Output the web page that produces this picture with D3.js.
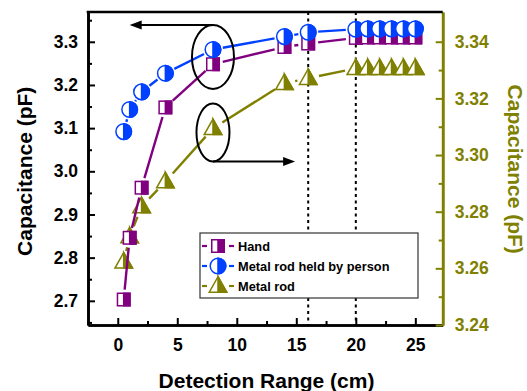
<!DOCTYPE html>
<html>
<head>
<meta charset="utf-8">
<script src="https://cdn.jsdelivr.net/npm/d3@7"></script>
<style>
  body { margin: 0; background: #fff; }
  svg { display: block; font-family: Arial, "Liberation Sans", sans-serif; font-weight: bold; }
</style>
</head>
<body>
<svg id="chart" width="527" height="391"></svg>
<script>
// data
var handX = [0.5, 1, 2, 4, 8, 14, 16, 20, 21, 22, 23, 24, 25]
var handY = [2.703, 2.846, 2.962, 3.148, 3.248, 3.288, 3.296, 3.309, 3.31, 3.31, 3.31, 3.31, 3.31]
var personX = [0.5, 1, 2, 4, 8, 14, 16, 20, 21, 22, 23, 24, 25]
var personY = [3.092, 3.143, 3.184, 3.227, 3.282, 3.312, 3.322, 3.329, 3.33, 3.33, 3.33, 3.33, 3.33]
var rodX = [0.5, 1, 2, 4, 8, 14, 16, 20, 21, 22, 23, 24, 25]
var rodY = [3.2623, 3.2712, 3.2818, 3.2906, 3.3094, 3.3253, 3.3271, 3.3306, 3.3306, 3.3306, 3.3306, 3.3306, 3.3306]
var xTicks = [0, 5, 10, 15, 20, 25]
var yLeftTicks = [2.7, 2.8, 2.9, 3.0, 3.1, 3.2, 3.3]
var yRightTicks = [3.24, 3.26, 3.28, 3.30, 3.32, 3.34]
var markLines = [16, 20]
var legendNames = ['Hand', 'Metal rod held by person', 'Metal rod']

var purple = '#800080', blue = '#0040ff', olive = '#808000'

var svg = d3.select('#chart')
var plotL = 88, plotR = 442.7, plotT = 12, plotB = 325

var x = d3.scaleLinear().domain([-2.5, 27.3]).range([plotL, plotR])
var yL = d3.scaleLinear().domain([2.644, 3.369]).range([plotB, plotT])
var yR = d3.scaleLinear().domain([3.24, 3.3505]).range([plotB, plotT])

// dotted guide lines
svg.append('g').selectAll('line').data(markLines).enter().append('line')
  .attr('x1', function(d) { return x(d) }).attr('x2', function(d) { return x(d) })
  .attr('y1', plotT).attr('y2', plotB)
  .attr('stroke', '#000').attr('stroke-width', 2).attr('stroke-dasharray', '3,3.5')

// axes
function styleAxis(g, color) {
  g.select('.domain').attr('stroke', color).attr('stroke-width', 2.6)
  g.selectAll('.tick line').attr('stroke', color).attr('stroke-width', 2)
  g.selectAll('.tick text').attr('fill', color).attr('font-size', 17.5).attr('font-weight', 'bold')
    .attr('font-family', 'Arial, "Liberation Sans", sans-serif')
}

var minorX = d3.range(-2.5, 27.5, 2.5).filter(function(d) { return d % 5 !== 0 })
svg.append('g').attr('transform', 'translate(0,' + plotB + ')')
  .call(d3.axisBottom(x).tickValues(minorX).tickSize(-4).tickFormat('').tickSizeOuter(0))
  .call(styleAxis, '#000')
svg.append('g').attr('transform', 'translate(0,' + plotB + ')')
  .call(d3.axisBottom(x).tickValues(xTicks).tickSize(-7).tickPadding(14).tickSizeOuter(0))
  .call(styleAxis, '#000')

var minorL = d3.range(2.65, 3.37, 0.1)
svg.append('g').attr('transform', 'translate(' + plotL + ',0)')
  .call(d3.axisLeft(yL).tickValues(minorL).tickSize(-4).tickFormat('').tickSizeOuter(0))
  .call(styleAxis, '#000')
svg.append('g').attr('transform', 'translate(' + plotL + ',0)')
  .call(d3.axisLeft(yL).tickValues(yLeftTicks).tickSize(-7).tickPadding(10).tickFormat(d3.format('.1f')).tickSizeOuter(0))
  .call(styleAxis, '#000')

var minorR = [3.25, 3.27, 3.29, 3.31, 3.33]
svg.append('g').attr('transform', 'translate(' + plotR + ',0)')
  .call(d3.axisRight(yR).tickValues(minorR).tickSize(-4).tickFormat('').tickSizeOuter(0))
  .call(styleAxis, olive)
svg.append('g').attr('transform', 'translate(' + plotR + ',0)')
  .call(d3.axisRight(yR).tickValues(yRightTicks).tickSize(-7).tickPadding(12).tickFormat(d3.format('.2f')).tickSizeOuter(0))
  .call(styleAxis, olive)

// top frame
svg.append('line').attr('x1', plotL - 1.3).attr('x2', plotR).attr('y1', plotT).attr('y2', plotT)
  .attr('stroke', '#000').attr('stroke-width', 2.6)

// axis titles
svg.append('text').attr('x', x(12.5)).attr('y', 388).attr('text-anchor', 'middle')
  .attr('font-size', 21).text('Detection Range (cm)')
svg.append('text').attr('transform', 'translate(32,' + yL(3.0) + ') rotate(-90)')
  .attr('text-anchor', 'middle').attr('font-size', 21).text('Capacitance (pF)')
svg.append('text').attr('transform', 'translate(508,' + yR(3.295) + ') rotate(90)')
  .attr('text-anchor', 'middle').attr('font-size', 21).attr('fill', olive).text('Capacitance (pF)')

// marker drawing
function drawSquare(g, cx, cy, color) {
  var s = 12.5
  g.append('rect').attr('x', cx - s / 2).attr('y', cy - s / 2).attr('width', s).attr('height', s)
    .attr('fill', '#fff').attr('stroke', color).attr('stroke-width', 1.5)
  g.append('rect').attr('x', cx).attr('y', cy - s / 2).attr('width', s / 2).attr('height', s)
    .attr('fill', color).attr('stroke', color).attr('stroke-width', 1.5)
}
function drawCircle(g, cx, cy, color) {
  var r = 7.8
  g.append('circle').attr('cx', cx).attr('cy', cy).attr('r', r)
    .attr('fill', '#fff').attr('stroke', color).attr('stroke-width', 1.5)
  var p = d3.path()
  p.moveTo(cx, cy - r)
  p.arc(cx, cy, r, -Math.PI / 2, Math.PI / 2)
  p.closePath()
  g.append('path').attr('d', p.toString()).attr('fill', color).attr('stroke', color).attr('stroke-width', 1.5)
}
function drawTriangle(g, cx, cy, color) {
  var w = 17.5, h = 15.5
  var topY = cy - h * 0.6, baseY = cy + h * 0.4
  g.append('path').attr('d', 'M' + cx + ',' + topY + 'L' + (cx + w / 2) + ',' + baseY + 'L' + (cx - w / 2) + ',' + baseY + 'Z')
    .attr('fill', '#fff').attr('stroke', color).attr('stroke-width', 1.5).attr('stroke-linejoin', 'miter')
  g.append('path').attr('d', 'M' + cx + ',' + topY + 'L' + (cx + w / 2) + ',' + baseY + 'L' + cx + ',' + baseY + 'Z')
    .attr('fill', color).attr('stroke', color).attr('stroke-width', 1.5)
}

// connecting lines with gaps round the symbols, like Origin does
function drawSeries(xs, ys, yScale, color, gap, marker) {
  var g = svg.append('g')
  var pts = xs.map(function(v, i) { return [x(v), yScale(ys[i])] })
  for (var i = 0; i < pts.length - 1; i++) {
    var a = pts[i], b = pts[i + 1]
    var dx = b[0] - a[0], dy = b[1] - a[1]
    var len = Math.sqrt(dx * dx + dy * dy)
    if (len <= gap * 2 + 1) continue
    var ux = dx / len, uy = dy / len
    g.append('line')
      .attr('x1', a[0] + ux * gap).attr('y1', a[1] + uy * gap)
      .attr('x2', b[0] - ux * gap).attr('y2', b[1] - uy * gap)
      .attr('stroke', color).attr('stroke-width', 2.4)
  }
  pts.forEach(function(p) { marker(g, p[0], p[1], color) })
}

drawSeries(rodX, rodY, yR, olive, 11, drawTriangle)
drawSeries(handX, handY, yL, purple, 10, drawSquare)
drawSeries(personX, personY, yL, blue, 10, drawCircle)

// ellipses with arrows pointing to the matching axis
var ann = svg.append('g').attr('fill', 'none').attr('stroke', '#000').attr('stroke-width', 2)
var e1x = x(8), e1y = yL(3.265), e1ry = 32
ann.append('ellipse').attr('cx', e1x).attr('cy', e1y).attr('rx', 21).attr('ry', e1ry)
ann.append('line').attr('x1', e1x).attr('y1', e1y - e1ry).attr('x2', x(1.0) + 10).attr('y2', e1y - e1ry)
svg.append('path').attr('d', 'M' + x(1.0) + ',' + (e1y - e1ry) + 'l12,-4.5l0,9z').attr('fill', '#000')

var e2x = x(8), e2y = yR(3.308), e2ry = 29
ann.append('ellipse').attr('cx', e2x).attr('cy', e2y).attr('rx', 16.5).attr('ry', e2ry)
ann.append('line').attr('x1', e2x).attr('y1', e2y + e2ry).attr('x2', x(14.9) - 10).attr('y2', e2y + e2ry)
svg.append('path').attr('d', 'M' + x(14.9) + ',' + (e2y + e2ry) + 'l-12,-4.5l0,9z').attr('fill', '#000')

// legend
var lg = svg.append('g').attr('transform', 'translate(200,233)')
lg.append('rect').attr('width', 218).attr('height', 65).attr('fill', '#fff')
  .attr('stroke', '#333').attr('stroke-width', 1.2)
var legendColors = [purple, blue, olive]
var legendMarkers = [drawSquare, drawCircle, drawTriangle]
legendNames.forEach(function(name, i) {
  var cy = 13 + i * 20
  lg.append('line').attr('x1', 2).attr('x2', 7).attr('y1', cy).attr('y2', cy)
    .attr('stroke', legendColors[i]).attr('stroke-width', 2.2)
  lg.append('line').attr('x1', 29).attr('x2', 34).attr('y1', cy).attr('y2', cy)
    .attr('stroke', legendColors[i]).attr('stroke-width', 2.2)
  legendMarkers[i](lg, 18, cy, legendColors[i])
  lg.append('text').attr('x', 38).attr('y', cy + 4.5).attr('font-size', 12.8).text(name)
})
</script>
</body>
</html>
